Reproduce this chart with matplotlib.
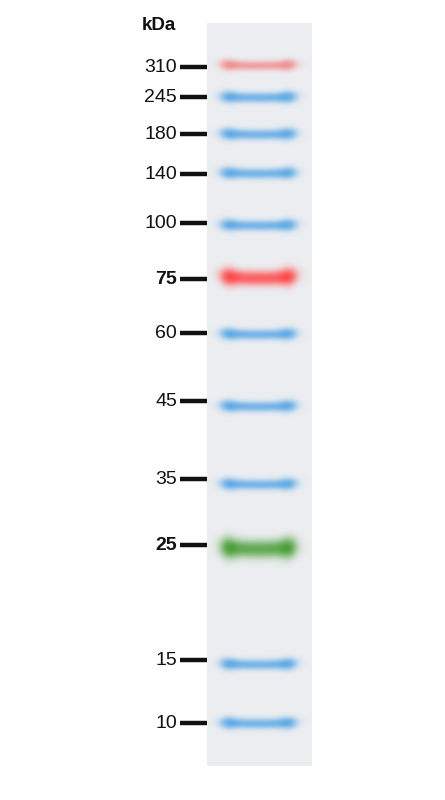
import numpy as np
import matplotlib
matplotlib.use("Agg")
import matplotlib.pyplot as plt

# ladder data (positions, in pixels from the top)
sizes = ["310", "245", "180", "140", "100", "75", "60", "45", "35", "25", "15", "10"]
tick_y = [67, 97, 134, 174, 223, 279, 333, 401, 479, 545, 660, 723]
band_y = [65, 97, 134, 173, 225, 277, 334, 406, 484, 548, 664, 723]
band_color = ["red_light", "blue", "blue", "blue", "blue", "red", "blue",
              "blue", "blue", "green", "blue", "blue"]
bold = ["75", "25"]

# colour, peak opacity, half thickness, smile depth
palette = {
    "blue": (np.array([74, 160, 228]) / 255, 0.9, 5.2, 1.2),
    "red_light": (np.array([242, 115, 115]) / 255, 0.78, 4.8, 1.2),
    "red": (np.array([255, 60, 60]) / 255, 0.97, 7.5, 2.5),
    "green": (np.array([62, 152, 42]) / 255, 0.97, 9.0, 2.0),
}

W, H = 445, 800
fig = plt.figure(figsize=(W / 100, H / 100), dpi=100)
ax = fig.add_axes([0, 0, 1, 1])
ax.set_xlim(0, W)
ax.set_ylim(H, 0)
ax.axis("off")

# lane
lane_x0, lane_x1, lane_y0, lane_y1 = 207, 312, 23, 766
bg = np.array([236, 238, 241]) / 255
ss = 3
nx = (lane_x1 - lane_x0) * ss
ny = (lane_y1 - lane_y0) * ss
xs = lane_x0 + (np.arange(nx) + 0.5) / ss
ys = lane_y0 + (np.arange(ny) + 0.5) / ss
X, Y = np.meshgrid(xs, ys)
img = np.ones((ny, nx, 3)) * bg

bx0, bx1 = 219, 298
u = (X - (bx0 + bx1) / 2) / ((bx1 - bx0) / 2)
edge = 1 / (1 + np.exp((np.abs(u) - 0.95) * 13))
ends = np.exp(-((np.abs(u) - 0.76) / 0.22) ** 2)
xprof = edge * (0.8 + 0.2 * ends)

for yc, key in zip(band_y, band_color):
    col, peak, half, curv = palette[key]
    centre = yc + curv * (0.5 - u ** 2)
    s = half * (0.9 + 0.15 * ends)
    d = np.abs(Y - centre) / s
    a = peak * xprof * np.exp(-0.8 * d ** 2.2)
    a = np.clip(a, 0, 1)[..., None]
    img = img * (1 - a) + col * a

ax.imshow(img, extent=[lane_x0, lane_x1, lane_y1, lane_y0],
          interpolation="bilinear", aspect="auto", zorder=1)

# ticks and labels
for lab, ty in zip(sizes, tick_y):
    ax.plot([180, 207], [ty, ty], color="#111111", lw=3.2,
            solid_capstyle="butt", zorder=2)
    ax.text(177, ty + 0.5, lab, ha="right", va="center", fontsize=14,
            family="Liberation Sans", color="#111111",
            fontweight="bold" if lab in bold else "normal")

ax.text(142, 25, "kDa", ha="left", va="center", fontsize=13.5,
        family="Liberation Sans", fontweight="bold", color="#111111")

fig.savefig("out.png", dpi=100)
